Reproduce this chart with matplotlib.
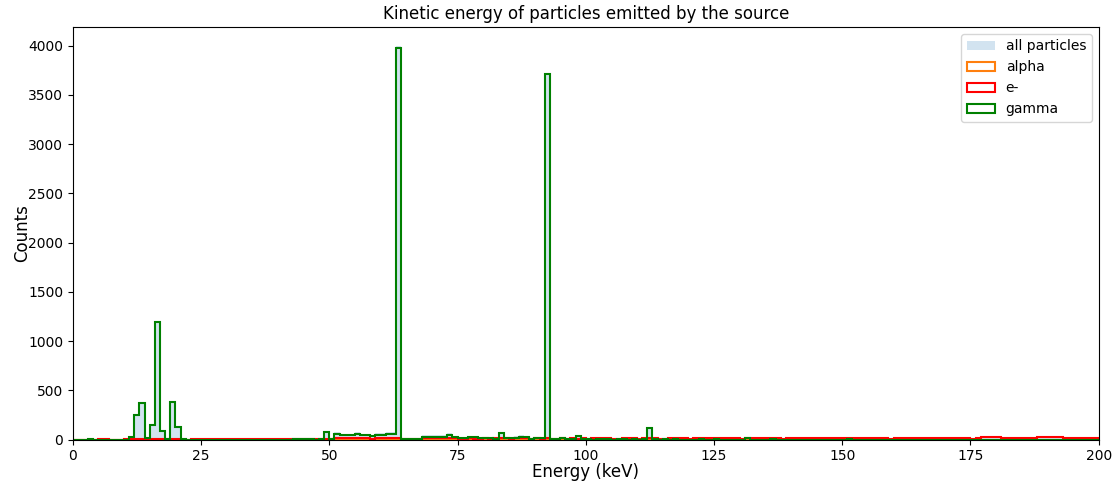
import numpy as np
import matplotlib
matplotlib.use("Agg")
from matplotlib import pyplot as plt

# 1 keV bins from 0 to 200 keV
edges = np.arange(0, 201, 1)

gamma = [0, 0, 0, 3, 0, 0, 0, 0, 0, 0,
         0, 30, 250, 375, 20, 145, 1190, 90, 5, 385,
         130, 3, 0, 0, 0, 0, 0, 0, 0, 0,
         0, 0, 0, 0, 0, 0, 0, 0, 0, 0,
         0, 0, 0, 4, 5, 3, 5, 0, 3, 78,
         5, 60, 45, 45, 45, 55, 45, 45, 33, 50,
         50, 60, 60, 3980, 8, 8, 8, 8, 30, 30,
         30, 30, 30, 50, 25, 15, 12, 28, 22, 20,
         12, 15, 10, 65, 18, 18, 20, 28, 28, 10,
         15, 15, 3710, 5, 5, 18, 5, 5, 40, 5,
         3, 0, 5, 8, 3, 0, 3, 5, 0, 3,
         0, 8, 115, 3, 0, 3, 0, 3, 0, 0,
         0, 0, 3, 0, 0, 3, 0, 0, 0, 0,
         0, 15, 0, 0, 0, 0, 3, 0, 0, 0,
         0, 0, 0, 0, 0, 0, 0, 0, 0, 0,
         0, 3, 0, 0, 0, 0, 0, 0, 0, 0,
         0, 0, 0, 0, 0, 0, 0, 0, 0, 0,
         0, 0, 0, 0, 0, 0, 0, 0, 0, 0,
         0, 0, 0, 0, 0, 0, 0, 0, 0, 0,
         0, 0, 0, 0, 0, 0, 0, 0, 0, 0]

electron = [0, 0, 0, 0, 0, 3, 3, 0, 0, 0,
            8, 8, 5, 5, 3, 8, 10, 5, 3, 8,
            5, 0, 0, 5, 5, 5, 5, 5, 5, 5,
            5, 5, 5, 5, 10, 5, 5, 5, 5, 5,
            5, 5, 5, 5, 5, 8, 8, 8, 8, 10,
            8, 12, 12, 12, 12, 20, 15, 12, 10, 12,
            12, 12, 12, 12, 10, 10, 10, 10, 12, 12,
            12, 12, 12, 14, 14, 10, 10, 12, 10, 10,
            12, 10, 12, 14, 12, 10, 12, 14, 12, 10,
            12, 10, 12, 10, 10, 12, 10, 12, 10, 12,
            10, 12, 14, 17, 12, 10, 10, 12, 17, 12,
            10, 12, 14, 12, 10, 10, 17, 12, 17, 12,
            10, 12, 17, 12, 12, 17, 14, 12, 17, 12,
            10, 14, 12, 12, 17, 12, 17, 12, 10, 17,
            12, 17, 12, 17, 12, 12, 17, 12, 17, 12,
            17, 12, 14, 17, 12, 12, 12, 14, 12, 10,
            17, 17, 17, 12, 17, 12, 17, 12, 17, 12,
            17, 17, 17, 12, 12, 10, 17, 24, 27, 24,
            24, 17, 17, 12, 12, 17, 12, 17, 24, 22,
            27, 27, 22, 17, 12, 17, 12, 17, 12, 17]

# no alpha particles below 200 keV
alpha = [0] * 200

total = np.array(alpha) + np.array(electron) + np.array(gamma)
centres = edges[:-1] + 0.5

fig, ax = plt.subplots(figsize=(11.2, 4.82), dpi=100)
fig.subplots_adjust(left=0.065, right=0.981, top=0.944, bottom=0.088)

ax.hist(centres, bins=edges, weights=total, histtype='stepfilled',
        color='C0', alpha=0.2, label='all particles')
ax.hist(centres, bins=edges, weights=alpha, histtype='step',
        color='C1', linewidth=1.5, label='alpha')
ax.hist(centres, bins=edges, weights=electron, histtype='step',
        color='red', linewidth=1.5, label='e-')
ax.hist(centres, bins=edges, weights=gamma, histtype='step',
        color='green', linewidth=1.5, label='gamma')

ax.set_xlim(0, 200)
ax.set_ylim(0, 4190)
ax.set_xticks(np.arange(0, 201, 25))
ax.set_yticks(np.arange(0, 4001, 500))
ax.set_title('Kinetic energy of particles emitted by the source', fontsize=12)
ax.set_xlabel('Energy (keV)', fontsize=12, labelpad=-0.5)
ax.set_ylabel('Counts', fontsize=12, labelpad=-2)
ax.legend(loc='upper right', fontsize=10)

plt.savefig('out.png')
